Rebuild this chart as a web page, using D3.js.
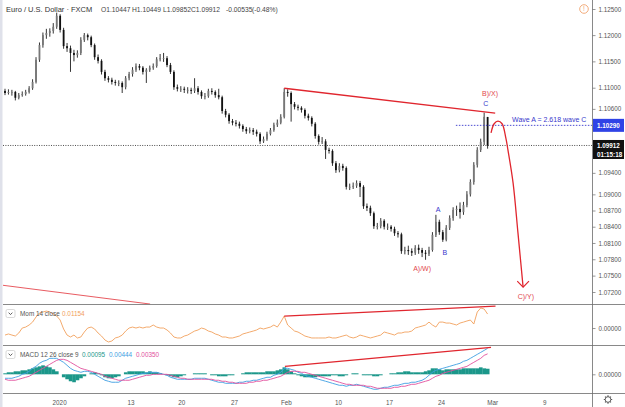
<!DOCTYPE html>
<html><head><meta charset="utf-8">
<script src="https://cdn.jsdelivr.net/npm/d3@7"></script>
<style>
html,body{margin:0;padding:0;background:#fff;}
svg{display:block;font-family:"Liberation Sans",Arial,sans-serif;}
</style></head><body>
<svg id="c" width="625" height="407"></svg>
<script>
// ---------- DATA ----------
const opens = [1.1094,1.1090,1.1092,1.1092,1.1081,1.1086,1.1088,1.1092,1.1099,1.1111,
1.1153,1.1181,1.1200,1.1204,1.1208,1.1216,1.1237,1.1210,1.1179,1.1175,
1.1166,1.1162,1.1166,1.1191,1.1200,1.1196,1.1181,1.1158,1.1151,1.1130,
1.1118,1.1115,1.1111,1.1109,1.1109,1.1101,1.1118,1.1126,1.1134,1.1141,
1.1138,1.1130,1.1134,1.1138,1.1141,1.1154,1.1156,1.1156,1.1143,1.1130,
1.1101,1.1098,1.1098,1.1096,1.1096,1.1094,1.1099,1.1092,1.1084,1.1084,
1.1094,1.1092,1.1086,1.1082,1.1056,1.1049,1.1037,1.1034,1.1032,1.1028,
1.1022,1.1018,1.1020,1.1017,1.1013,1.0999,1.1003,1.1013,1.1020,1.1030,
1.1034,1.1045,1.1092,1.1090,1.1069,1.1064,1.1062,1.1058,1.1047,1.1043,
1.1032,1.1009,1.0998,1.0999,1.0983,1.0981,1.0958,1.0945,1.0953,1.0949,
1.0914,1.0914,1.0916,1.0921,1.0914,1.0878,1.0875,1.0865,1.0841,1.0841,
1.0851,1.0840,1.0840,1.0836,1.0828,1.0826,1.0795,1.0797,1.0795,1.0792,
1.0801,1.0797,1.0792,1.0790,1.0797,1.0825,1.0849,1.0830,1.0816,1.0838,
1.0856,1.0871,1.0873,1.0867,1.0880,1.0900,1.0923,1.0955,1.0983,1.0998,
1.10447];
const highs = [1.1098,1.1097,1.1096,1.1094,1.1090,1.1093,1.1096,1.1103,1.1116,1.1158,
1.1186,1.1205,1.1212,1.1213,1.1223,1.1243,1.1240,1.1214,1.1185,1.1180,
1.1172,1.1171,1.1196,1.1204,1.1203,1.1199,1.1184,1.1163,1.1154,1.1134,
1.1122,1.1119,1.1115,1.1114,1.1112,1.1122,1.1130,1.1139,1.1146,1.1145,
1.1141,1.1137,1.1142,1.1146,1.1158,1.1164,1.1166,1.1160,1.1147,1.1133,
1.1106,1.1103,1.1102,1.1101,1.1100,1.1118,1.1103,1.1095,1.1090,1.1098,
1.1099,1.1095,1.1098,1.1085,1.1060,1.1052,1.1041,1.1039,1.1036,1.1031,
1.1026,1.1025,1.1024,1.1021,1.1016,1.1008,1.1017,1.1024,1.1034,1.1040,
1.1050,1.1099,1.1097,1.1093,1.1073,1.1068,1.1065,1.1061,1.1051,1.1046,
1.1035,1.1012,1.1007,1.1003,1.0987,1.0984,1.0962,1.0958,1.0957,1.0952,
1.0920,1.0922,1.0926,1.0925,1.0917,1.0883,1.0879,1.0868,1.0847,1.0856,
1.0854,1.0846,1.0843,1.0840,1.0832,1.0829,1.0803,1.0805,1.0800,1.0806,
1.0807,1.0801,1.0797,1.0803,1.0830,1.0862,1.0853,1.0834,1.0843,1.0861,
1.0876,1.0879,1.0885,1.0886,1.0906,1.0928,1.0960,1.0988,1.1004,1.1053,
1.10449];
const lows = [1.1086,1.1087,1.1085,1.1076,1.1078,1.1083,1.1085,1.1089,1.1096,1.1108,
1.1149,1.1176,1.1193,1.1197,1.1203,1.1212,1.1205,1.1174,1.1168,1.1130,
1.1150,1.1157,1.1162,1.1187,1.1190,1.1177,1.1153,1.1146,1.1125,1.1113,
1.1110,1.1106,1.1104,1.1103,1.1090,1.1097,1.1114,1.1121,1.1130,1.1133,
1.1125,1.1109,1.1130,1.1134,1.1138,1.1150,1.1149,1.1139,1.1126,1.1096,
1.1093,1.1092,1.1090,1.1089,1.1088,1.1090,1.1087,1.1079,1.1078,1.1081,
1.1087,1.1081,1.1078,1.1051,1.1044,1.1032,1.1029,1.1027,1.1023,1.1017,
1.1013,1.1014,1.1011,1.1008,1.0994,1.0996,1.1000,1.1010,1.1017,1.1026,
1.1031,1.1042,1.1083,1.1036,1.1059,1.1057,1.1053,1.1042,1.1038,1.1027,
1.1004,1.0993,1.0994,1.0966,1.0976,1.0953,1.0940,1.0941,1.0944,1.0909,
1.0908,1.0910,1.0912,1.0895,1.0873,1.0869,1.0860,1.0836,1.0835,1.0837,
1.0835,1.0834,1.0831,1.0823,1.0820,1.0790,1.0789,1.0788,1.0786,1.0788,
1.0790,1.0784,1.0779,1.0786,1.0794,1.0821,1.0825,1.0812,1.0813,1.0834,
1.0851,1.0860,1.0855,1.0862,1.0876,1.0896,1.0918,1.0950,1.0979,1.0992,
1.09852];
const closes = [1.1090,1.1092,1.1092,1.1081,1.1086,1.1088,1.1092,1.1099,1.1111,1.1153,
1.1181,1.1200,1.1204,1.1208,1.1216,1.1237,1.1210,1.1179,1.1175,1.1166,
1.1162,1.1166,1.1191,1.1200,1.1196,1.1181,1.1158,1.1151,1.1130,1.1118,
1.1115,1.1111,1.1109,1.1109,1.1101,1.1118,1.1126,1.1134,1.1141,1.1138,
1.1130,1.1134,1.1138,1.1141,1.1154,1.1156,1.1156,1.1143,1.1130,1.1101,
1.1098,1.1098,1.1096,1.1096,1.1094,1.1099,1.1092,1.1084,1.1084,1.1094,
1.1092,1.1086,1.1082,1.1056,1.1049,1.1037,1.1034,1.1032,1.1028,1.1022,
1.1018,1.1020,1.1017,1.1013,1.0999,1.1003,1.1013,1.1020,1.1030,1.1034,
1.1045,1.1092,1.1090,1.1069,1.1064,1.1062,1.1058,1.1047,1.1043,1.1032,
1.1009,1.0998,1.0999,1.0983,1.0981,1.0958,1.0945,1.0953,1.0949,1.0914,
1.0914,1.0916,1.0921,1.0914,1.0878,1.0875,1.0865,1.0841,1.0841,1.0851,
1.0840,1.0840,1.0836,1.0828,1.0826,1.0795,1.0797,1.0795,1.0792,1.0801,
1.0797,1.0792,1.0790,1.0797,1.0825,1.0849,1.0830,1.0816,1.0838,1.0856,
1.0871,1.0873,1.0867,1.0880,1.0900,1.0923,1.0955,1.0983,1.0998,1.1045,
1.09912];

const mom14 = [-0.0058,-0.0049,-0.0058,-0.0066,-0.0041,0.0000,0.0008,0.0025,0.0049,0.0091,
0.0124,0.0132,0.0140,0.0132,0.0115,0.0099,0.0066,-0.0008,-0.0058,-0.0074,
-0.0058,-0.0082,-0.0074,-0.0033,0.0000,0.0008,-0.0008,-0.0041,-0.0066,-0.0099,
-0.0115,-0.0107,-0.0082,-0.0074,-0.0058,-0.0025,0.0000,0.0008,0.0000,0.0008,
0.0000,0.0008,0.0008,0.0025,0.0008,0.0000,0.0000,-0.0016,-0.0041,-0.0074,
-0.0082,-0.0082,-0.0066,-0.0058,-0.0041,-0.0025,-0.0016,0.0000,-0.0008,-0.0025,
-0.0033,-0.0049,-0.0058,-0.0074,-0.0074,-0.0082,-0.0082,-0.0074,-0.0066,-0.0049,
-0.0041,-0.0033,-0.0025,-0.0016,0.0000,-0.0008,0.0000,0.0008,0.0025,0.0008,
0.0049,0.0099,0.0025,0.0000,-0.0025,-0.0033,-0.0049,-0.0066,-0.0074,-0.0082,
-0.0082,-0.0082,-0.0082,-0.0082,-0.0074,-0.0082,-0.0082,-0.0074,-0.0066,-0.0058,
-0.0074,-0.0082,-0.0074,-0.0058,-0.0066,-0.0074,-0.0082,-0.0074,-0.0066,-0.0058,
-0.0033,-0.0041,-0.0049,-0.0058,-0.0041,-0.0041,-0.0033,-0.0033,-0.0025,0.0000,
0.0008,0.0016,0.0025,0.0049,0.0025,0.0008,0.0049,0.0049,0.0041,0.0041,
0.0033,0.0025,0.0041,0.0049,0.0058,0.0066,0.0033,0.0132,0.0165,0.0157,
0.01154];

const macdLine = [-0.00068,-0.00068,-0.00068,-0.00051,-0.00034,0,0.00017,0.00051,0.00102,0.00136,
0.00188,0.00222,0.00239,0.00273,0.00273,0.00273,0.00239,0.00205,0.00154,0.00102,
0.00068,0.00051,0.00034,0.00051,0.00051,0.00034,0,-0.00034,-0.00068,-0.00102,
-0.00119,-0.00136,-0.00136,-0.00136,-0.00102,-0.00068,-0.00051,-0.00034,-0.00017,0,
0.00017,0.00017,0.00034,0.00034,0.00034,0.00017,0,-0.00017,-0.00051,-0.00068,
-0.00085,-0.00085,-0.00085,-0.00085,-0.00085,-0.00068,-0.00068,-0.00068,-0.00068,-0.00085,
-0.00102,-0.00119,-0.00136,-0.00136,-0.00154,-0.00154,-0.00154,-0.00154,-0.00136,-0.00136,
-0.00119,-0.00119,-0.00102,-0.00102,-0.00085,-0.00068,-0.00051,-0.00051,-0.00017,0,
0.00034,0.00102,0.00102,0.00085,0.00068,0.00034,0.00017,-0.00017,-0.00034,-0.00051,
-0.00068,-0.00085,-0.00102,-0.00119,-0.00136,-0.00154,-0.00171,-0.00188,-0.00188,-0.00205,
-0.00188,-0.00188,-0.00171,-0.00188,-0.00205,-0.00222,-0.00239,-0.00256,-0.00256,-0.00239,
-0.00222,-0.00222,-0.00205,-0.00188,-0.00188,-0.00171,-0.00154,-0.00154,-0.00136,-0.00136,
-0.00119,-0.00102,-0.00068,-0.00017,0.00034,0.00068,0.00085,0.00102,0.00119,0.00136,
0.00154,0.00171,0.00188,0.00222,0.00239,0.00273,0.00307,0.00341,0.00375,0.00409,
0.00444];
const signalLine = [-0.00085,-0.00102,-0.00102,-0.00102,-0.00085,-0.00068,-0.00051,-0.00034,0,0.00034,
0.00068,0.00102,0.00136,0.00171,0.00205,0.00239,0.00256,0.00256,0.00239,0.00205,
0.00171,0.00136,0.00102,0.00085,0.00068,0.00051,0.00034,0.00017,0,-0.00034,
-0.00051,-0.00068,-0.00085,-0.00102,-0.00102,-0.00102,-0.00102,-0.00085,-0.00068,-0.00051,
-0.00034,-0.00017,-0.00017,0,0,0,0,0,-0.00017,-0.00034,
-0.00051,-0.00068,-0.00068,-0.00085,-0.00085,-0.00085,-0.00085,-0.00085,-0.00085,-0.00085,
-0.00085,-0.00102,-0.00102,-0.00119,-0.00119,-0.00136,-0.00136,-0.00154,-0.00154,-0.00154,
-0.00154,-0.00136,-0.00136,-0.00119,-0.00119,-0.00102,-0.00102,-0.00085,-0.00068,-0.00051,
-0.00034,0,0.00034,0.00051,0.00051,0.00051,0.00034,0.00034,0.00017,0,
-0.00017,-0.00034,-0.00051,-0.00068,-0.00085,-0.00102,-0.00119,-0.00136,-0.00154,-0.00171,
-0.00171,-0.00188,-0.00188,-0.00188,-0.00188,-0.00205,-0.00205,-0.00222,-0.00239,-0.00239,
-0.00239,-0.00239,-0.00239,-0.00222,-0.00222,-0.00205,-0.00205,-0.00188,-0.00171,-0.00171,
-0.00154,-0.00136,-0.00119,-0.00102,-0.00068,-0.00034,-0.00017,0.00017,0.00034,0.00051,
0.00068,0.00085,0.00102,0.00119,0.00136,0.00171,0.00205,0.00239,0.00273,0.00324,
0.00350];
const macdHist = [0.00017,0.00034,0.00034,0.00051,0.00051,0.00068,0.00068,0.00085,0.00102,0.00119,
0.00136,0.00153,0.00136,0.00119,0.00085,0.00051,0,-0.00051,-0.00085,-0.00119,
-0.00136,-0.00102,-0.00068,-0.00034,0,0.00017,0.00034,0.00017,-0.00017,-0.00051,
-0.00068,-0.00068,-0.00051,-0.00034,0,0.00034,0.00051,0.00051,0.00051,0.00051,
0.00051,0.00034,0.00051,0.00034,0.00034,0.00017,0,-0.00017,-0.00034,-0.00051,
-0.00051,-0.00034,-0.00017,0,0,0.00017,0.00017,0.00017,0.00017,0,
-0.00017,-0.00017,-0.00034,-0.00034,-0.00034,-0.00017,-0.00017,0,0,0.00017,
0.00034,0.00034,0.00034,0.00034,0.00034,0.00034,0.00051,0.00051,0.00051,0.00068,
0.00085,0.00119,0.00085,0.00051,0.00017,-0.00017,-0.00034,-0.00051,-0.00051,-0.00051,
-0.00051,-0.00034,-0.00034,-0.00034,-0.00034,-0.00017,-0.00017,-0.00034,-0.00034,-0.00017,
0,0.00017,0.00017,0,-0.00017,-0.00017,-0.00017,-0.00034,-0.00034,-0.00017,
0,0,0.00017,0.00017,0.00034,0.00034,0.00051,0.00051,0.00034,0.00034,
0.00034,0.00034,0.00051,0.00068,0.00102,0.00102,0.00085,0.00068,0.00085,0.00085,
0.00085,0.00085,0.00085,0.00102,0.00102,0.00102,0.00102,0.00102,0.00119,0.00102,
0.00095];

const priceTicks = [1.125,1.12,1.115,1.11,1.106,1.094,1.09,1.087,1.084,1.081,1.078,1.075,1.072];
const xTickLabels = ["2020","13","20","27","Feb","10","17","24","Mar","9"];
const xTickPos = [15.7,36.4,51.1,66.4,81.5,96.6,111.4,126.5,141.3,156.4];

// annotations (candle index, value)
const trendMain = [[81,1.1099],[142.2,1.1052]];
const trendOld = [[-1.5,1.0733],[42.1,1.0698]];
const trendMom = [[81,0.0099],[142.3,0.0181]];
const trendMacd = [[81.2,0.00136],[141,0.0046]];
const projArc = [[141.0,1.1015],[141.9,1.1032],[143.0,1.1037],[144.2,1.1032],[145.3,1.1005],[145.9,1.0983],[147.4,1.0921],[148.8,1.0829],[150.3,1.0729]];
const arrowHead = [[148.6,1.0740],[150.3,1.0729],[152.0,1.0740]];
const waveTarget = {from:130.8, price:1.1029, text:"Wave A = 2.618 wave C"};
const lastPrice = 1.09912;
const waveLabels = [
  {t:"B)/X)", i:140.7, p:1.1084, c:"red"},
  {t:"C", i:139.5, p:1.1065, c:"blue"},
  {t:"A", i:125.6, p:1.0867, c:"blue"},
  {t:"B", i:127.6, p:1.0788, c:"blue"},
  {t:"A)/W)", i:121.0, p:1.07585, c:"red"},
  {t:"C)/Y)", i:151.1, p:1.0707, c:"red"}
];
const headerTitle = "Euro / U.S. Dollar · FXCM";
const headerVals = ["O1.10447","H1.10449","L1.09852","C1.09912","-0.00535","(-0.48%)"];
const momLegend = {name:"Mom 14 close", val:"0.01154"};
const macdLegend = {name:"MACD 12 26 close 9", vals:["0.00095","0.00444","0.00350"]};

// ---------- LAYOUT ----------
const svg = d3.select("#c");
const PR = 592;
const RED = "#e0262e", BLUE = "#3838cc", TXT = "#555";
const x = d3.scaleLinear().domain([0,140]).range([5,487.6]);
const step = x(1)-x(0);
const yP = d3.scaleLog().domain([1.072,1.125]).range([292,9]);
const yM = d3.scaleLinear().domain([-0.014,0.019]).range([345,305]);
const yD = d3.scaleLinear().domain([-0.0032,0.0045]).range([393,348]);

const defs = svg.append("defs");
[["cm",3,0,PR-3,304.5],["co",3,305,PR-3,40],["cd",3,346,PR-3,47]].forEach(([id,x0,y0,w,h])=>{
  defs.append("clipPath").attr("id",id).append("rect").attr("x",x0).attr("y",y0).attr("width",w).attr("height",h);
});

svg.append("rect").attr("width",625).attr("height",407).attr("fill","#fff");
svg.append("rect").attr("x",0).attr("y",0).attr("width",2.5).attr("height",407).attr("fill","#dfe1ea");

// ---------- MAIN PANE ----------
const gm = svg.append("g").attr("clip-path","url(#cm)");
const idx = d3.range(closes.length);
const lineXY = (ys)=>d3.line().x(d=>x(d[0])).y(d=>ys(d[1]));

gm.append("path").attr("d",lineXY(yP)(trendOld)).attr("fill","none").attr("stroke","#e5484f").attr("stroke-width",0.9);

gm.append("line").attr("x1",3).attr("x2",PR).attr("y1",yP(lastPrice)).attr("y2",yP(lastPrice))
  .attr("stroke","#222").attr("stroke-width",0.8).attr("stroke-dasharray","1,1.4");

gm.selectAll("line.wick").data(idx).join("line").attr("class","wick")
  .attr("x1",i=>x(i)).attr("x2",i=>x(i)).attr("y1",i=>yP(highs[i])).attr("y2",i=>yP(lows[i]))
  .attr("stroke","#111").attr("stroke-width",0.85);
gm.selectAll("rect.body").data(idx).join("rect").attr("class","body")
  .attr("x",i=>x(i)-0.9).attr("width",1.8)
  .attr("y",i=>yP(Math.max(opens[i],closes[i])))
  .attr("height",i=>Math.max(0.8,Math.abs(yP(opens[i])-yP(closes[i]))))
  .attr("fill",i=>closes[i]>=opens[i]?"#777":"#111");

gm.append("path").attr("d",lineXY(yP)(trendMain)).attr("fill","none").attr("stroke",RED).attr("stroke-width",1.3);

gm.append("line").attr("x1",x(waveTarget.from)).attr("x2",PR).attr("y1",yP(waveTarget.price)).attr("y2",yP(waveTarget.price))
  .attr("stroke",BLUE).attr("stroke-width",0.9).attr("stroke-dasharray","1.5,1.5");
gm.append("text").attr("x",x(147.1)).attr("y",yP(1.1035)).attr("font-size",7).attr("fill",BLUE).text(waveTarget.text);

gm.append("path").attr("d",lineXY(yP).curve(d3.curveCatmullRom)(projArc)).attr("fill","none").attr("stroke",RED).attr("stroke-width",1.3);
gm.append("path").attr("d",lineXY(yP)(arrowHead)).attr("fill","none").attr("stroke",RED).attr("stroke-width",1.2);

gm.selectAll("text.wl").data(waveLabels).join("text").attr("class","wl")
  .attr("x",d=>x(d.i)).attr("y",d=>yP(d.p)).attr("text-anchor","middle").attr("font-size",7)
  .attr("fill",d=>d.c==="red"?"#e2474d":BLUE).text(d=>d.t);

// header
svg.append("text").attr("x",6).attr("y",12).attr("font-size",7.5).attr("fill","#333").text(headerTitle);
const hx = [101,132,163,191,226,252];
headerVals.forEach((t,k)=>svg.append("text").attr("x",hx[k]).attr("y",12).attr("font-size",6.7).attr("fill","#444").text(t));

svg.append("circle").attr("cx",584).attr("cy",9).attr("r",4.3).attr("fill","none").attr("stroke","#f0a36e").attr("stroke-width",0.9);
svg.append("text").attr("x",584).attr("y",11.4).attr("text-anchor","middle").attr("font-size",6.5).attr("fill","#f0a36e").text("!");

// ---------- MOM PANE ----------
const go = svg.append("g").attr("clip-path","url(#co)");
go.append("path").datum(mom14).attr("d",d3.line().x((d,i)=>x(i)).y(d=>yM(d)))
  .attr("fill","none").attr("stroke","#f2a05c").attr("stroke-width",0.9);
go.append("path").attr("d",lineXY(yM)(trendMom)).attr("fill","none").attr("stroke",RED).attr("stroke-width",1.3);

// ---------- MACD PANE ----------
const gd = svg.append("g").attr("clip-path","url(#cd)");
gd.selectAll("rect.h").data(idx).join("rect").attr("class","h")
  .attr("x",i=>x(i)-step/2).attr("width",step+0.2)
  .attr("y",i=>yD(Math.max(0,macdHist[i]))).attr("height",i=>Math.abs(yD(macdHist[i])-yD(0)))
  .attr("fill","#1b978a");
gd.append("path").datum(macdLine).attr("d",d3.line().x((d,i)=>x(i)).y(d=>yD(d)))
  .attr("fill","none").attr("stroke","#3d9ee2").attr("stroke-width",0.9);
gd.append("path").datum(signalLine).attr("d",d3.line().x((d,i)=>x(i)).y(d=>yD(d)))
  .attr("fill","none").attr("stroke","#e2509d").attr("stroke-width",0.9);
gd.append("path").attr("d",lineXY(yD)(trendMacd)).attr("fill","none").attr("stroke",RED).attr("stroke-width",1.3);

// legends
function legendBox(y){
  svg.append("rect").attr("x",6).attr("y",y).attr("width",9).attr("height",8).attr("rx",1.5)
    .attr("fill","#fff").attr("stroke","#c8c8c8").attr("stroke-width",0.7);
  svg.append("path").attr("d",`M8.6,${y+3.2} L10.5,${y+5} L12.4,${y+3.2}`).attr("fill","none").attr("stroke","#333").attr("stroke-width",0.8);
}
legendBox(309.5);
svg.append("text").attr("x",20).attr("y",316).attr("font-size",6.4).attr("fill",TXT).text(momLegend.name);
svg.append("text").attr("x",62).attr("y",316).attr("font-size",6.4).attr("fill","#f2a05c").text(momLegend.val);
legendBox(350.5);
svg.append("text").attr("x",20).attr("y",357).attr("font-size",6.4).attr("fill",TXT).text(macdLegend.name);
const mcols = ["#1b978a","#3d9ee2","#e2509d"], mx=[82,109,136];
macdLegend.vals.forEach((v,k)=>svg.append("text").attr("x",mx[k]).attr("y",357).attr("font-size",6.4).attr("fill",mcols[k]).text(v));

// ---------- FRAME ----------
[304.5,345.5,393.5].forEach(yy=>svg.append("line").attr("x1",3).attr("x2",625).attr("y1",yy).attr("y2",yy).attr("stroke","#6b6b6b").attr("stroke-width",0.8));
svg.append("line").attr("x1",PR+0.5).attr("x2",PR+0.5).attr("y1",0).attr("y2",407).attr("stroke","#6b6b6b").attr("stroke-width",0.8);

function styleAxis(a){
  a.select(".domain").remove();
  a.selectAll("line").attr("stroke","#6b6b6b").attr("stroke-width",0.7);
  a.selectAll("text").attr("font-size",6.3).attr("fill",TXT).attr("font-family","Liberation Sans, Arial, sans-serif");
}
styleAxis(svg.append("g").attr("transform",`translate(${PR+0.5},0)`)
  .call(d3.axisRight(yP).tickValues(priceTicks).tickFormat(d3.format(".5f")).tickSize(3).tickPadding(3)));
styleAxis(svg.append("g").attr("transform",`translate(${PR+0.5},0)`)
  .call(d3.axisRight(yM).tickValues([0]).tickFormat(d3.format(".5f")).tickSize(3).tickPadding(3)));
styleAxis(svg.append("g").attr("transform",`translate(${PR+0.5},0)`)
  .call(d3.axisRight(yD).tickValues([0]).tickFormat(d3.format(".5f")).tickSize(3).tickPadding(3)));

function pbox(yc,h,fill,txt){
  svg.append("rect").attr("x",PR+1).attr("y",yc-h/2).attr("width",625-PR-2).attr("height",h).attr("fill",fill);
  svg.append("text").attr("x",PR+5).attr("y",yc+2.2).attr("font-size",6.3).attr("font-weight","bold").attr("fill","#fff").text(txt);
}
pbox(yP(waveTarget.price),13,"#2f43e6",d3.format(".5f")(waveTarget.price));
const yl = yP(lastPrice);
pbox(yl,11,"#111",d3.format(".5f")(lastPrice));
pbox(yl+9.5,8,"#111","01:15:18");

const ax = svg.append("g").attr("transform","translate(0,393.5)")
  .call(d3.axisBottom(x).tickValues(xTickPos).tickFormat((d,k)=>xTickLabels[k]).tickSize(0).tickPadding(7));
styleAxis(ax);

const gear = svg.append("g").attr("transform","translate(608,399.5)");
d3.range(8).forEach(k=>{
  const a = k*Math.PI/4;
  gear.append("line").attr("x1",Math.cos(a)*2.5).attr("y1",Math.sin(a)*2.5).attr("x2",Math.cos(a)*4.2).attr("y2",Math.sin(a)*4.2)
    .attr("stroke","#555").attr("stroke-width",1.1);
});
gear.append("circle").attr("r",2.8).attr("fill","#fff").attr("stroke","#555").attr("stroke-width",0.9);
</script>
</body></html>
